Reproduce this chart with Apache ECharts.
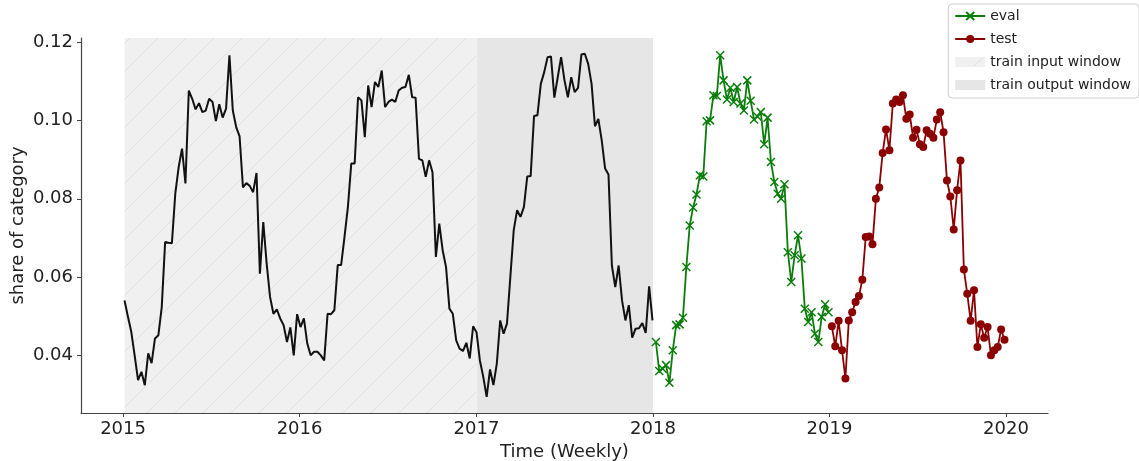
<!DOCTYPE html>
<html>
<head>
<meta charset="utf-8">
<script src="https://cdn.jsdelivr.net/npm/echarts@6/dist/echarts.min.js"></script>
<style>
html,body{margin:0;padding:0;background:#fff;}
#chart{width:1139px;height:461px;}
</style>
</head>
<body>
<div id="chart"></div>
<script>
// ---- data ----
const trainStart = '2015-01-04';
const evalStart = '2018-01-07';
const testStart = '2019-01-06';
const trainValues = [.0541,.050,.0461,.040,.0338,.0359,.0325,.0406,.0381,.0444,
.0452,.0524,.069,.0688,.0687,.0813,.0881,.0928,.0839,.1076,
.1055,.1028,.1044,.1021,.1025,.1055,.1047,.0998,.1041,.1007,
.103,.1166,.1025,.0983,.0959,.0829,.084,.0833,.0817,.0866,
.0609,.0741,.0635,.055,.0507,.0518,.0495,.0478,.0435,.0472,
.0401,.0506,.0473,.0495,.0431,.0401,.041,.041,.0401,.0388,
.0507,.0506,.0516,.0631,.0631,.0703,.0779,.089,.089,.1059,
.1051,.0957,.1089,.1034,.1098,.1085,.1127,.1034,.1047,.1053,
.1047,.1076,.1083,.1085,.1116,.1059,.1058,.0902,.0898,.0856,
.0898,.0868,.0652,.0737,.0669,.0626,.052,.0507,.0439,.0418,
.0412,.0433,.0393,.0475,.046,.0388,.0346,.0295,.0365,.0325,
.038,.049,.0456,.0482,.0601,.072,.0771,.0754,.0779,.0857,
.0858,.1011,.1013,.1093,.1123,.1161,.1163,.1058,.111,.1161,
.1102,.1059,.111,.1072,.1083,.1168,.117,.1144,.1093,.0985,
.1004,.0949,.0877,.0862,.063,.0575,.063,.0541,.049,.0529,
.0446,.0469,.047,.0483,.0458,.0577,.049];
const evalValues = [.0435,.0361,.0367,.0376,.0331,.0414,.0478,.048,.0497,.0626,
.0732,.0778,.0811,.086,.0857,.0998,.1,.1064,.1062,.1166,
.1102,.1053,.1083,.1047,.1085,.1043,.1025,.1102,.105,.1002,
.101,.1021,.0939,.1007,.0894,.0843,.0813,.08,.0837,.0664,
.0588,.0656,.0707,.0648,.052,.0486,.0511,.0456,.0435,.0499,
.0531,.0511];
const testValues = [.0475,.0424,.0489,.0414,.0342,.049,.0511,.0537,.0552,.0594,
.0703,.0704,.0684,.08,.0829,.0917,.0977,.0924,.1043,.1053,
.1047,.1064,.1004,.1015,.0956,.0976,.0939,.0932,.0975,.0966,
.0956,.1002,.1021,.097,.0847,.0806,.0722,.0822,.0898,.062,
.0558,.0489,.0567,.0422,.048,.0446,.0473,.0401,.0414,.0422,
.0467,.0441];
const inputWindow = ['2015-01-04', '2016-12-31'];
const outputWindow = ['2017-01-01', '2018-01-01'];
const xTickYears = [2015, 2016, 2017, 2018, 2019, 2020];
const yTicks = [0.04, 0.06, 0.08, 0.10, 0.12];
const seriesNames = ['eval', 'test', 'train input window', 'train output window'];

// ---- helpers ----
const DAY = 86400000;
function ts(s){ const p = s.split('-').map(Number); return Date.UTC(p[0], p[1]-1, p[2]); }
function weekly(start, values){ const t0 = ts(start); return values.map((v,i)=>[t0 + i*7*DAY, v]); }

function hatchPattern(){
  const s = 28;
  const c = document.createElement('canvas');
  c.width = s; c.height = s;
  const g = c.getContext('2d');
  g.fillStyle = '#f0f0f0'; g.fillRect(0,0,s,s);
  g.strokeStyle = '#e0e0e0'; g.lineWidth = 1;
  g.beginPath();
  g.moveTo(0,s); g.lineTo(s,0);
  g.moveTo(-s/2,s/2); g.lineTo(s/2,-s/2);
  g.moveTo(s/2,s*1.5); g.lineTo(s*1.5,s/2);
  g.stroke();
  return {image: c, repeat: 'repeat'};
}
const hatch = hatchPattern();
const FONT = 'DejaVu Sans';

const chart = echarts.init(document.getElementById('chart'), null, {renderer:'canvas'});
chart.setOption({
  animation: false,
  backgroundColor: '#fff',
  textStyle: {fontFamily: FONT},
  grid: {left: 81, right: 91, top: 38, bottom: 48, containLabel: false, outerBoundsMode: 'none'},
  legend: {
    orient: 'vertical', right: 0, top: 4,
    padding: [5, 8, 6, 6],
    itemGap: 9,
    itemWidth: 30, itemHeight: 10,
    borderColor: '#cccccc', borderWidth: 1, borderRadius: 4,
    backgroundColor: 'rgba(255,255,255,0.8)',
    textStyle: {fontFamily: FONT, fontSize: 14, color: '#222'},
    data: [
      {name: seriesNames[0]},
      {name: seriesNames[1]},
      {name: seriesNames[2], icon: 'rect', itemStyle: {color: hatch}},
      {name: seriesNames[3], icon: 'rect'}
    ]
  },
  xAxis: {
    type: 'value',
    min: ts('2014-10-06'), max: ts('2020-03-28'),
    name: 'Time (Weekly)', nameLocation: 'middle', nameGap: 30, nameMoveOverlap: false,
    nameTextStyle: {fontFamily: FONT, fontSize: 18, color: '#222'},
    axisLine: {show: true, onZero: false, lineStyle: {color: '#444', width: 1.2}},
    axisTick: {show: true, length: 4, lineStyle: {color: '#444'}, customValues: xTickYears.map(y=>Date.UTC(y,0,1))},
    axisLabel: {fontFamily: FONT, fontSize: 18, color: '#222', margin: 7,
      customValues: xTickYears.map(y=>Date.UTC(y,0,1)),
      formatter: v => String(new Date(v).getUTCFullYear())},
    splitLine: {show: false}
  },
  yAxis: {
    type: 'value', min: 0.0254, max: 0.121,
    name: 'share of category', nameLocation: 'middle', nameGap: 54, nameRotate: 90, nameMoveOverlap: false,
    nameTextStyle: {fontFamily: FONT, fontSize: 18, color: '#222'},
    axisLine: {show: true, onZero: false, lineStyle: {color: '#444', width: 1.2}},
    axisTick: {show: true, length: 4, lineStyle: {color: '#444'}, customValues: yTicks},
    axisLabel: {fontFamily: FONT, fontSize: 18, color: '#222', margin: 8,
      customValues: yTicks, formatter: v => v.toFixed(2)},
    splitLine: {show: false}
  },
  series: [
    {
      name: seriesNames[2], type: 'line', data: [], z: 0,
      itemStyle: {color: '#f0f0f0'},
      markArea: {silent: true, itemStyle: {color: hatch}, data: [[{xAxis: ts(inputWindow[0])}, {xAxis: ts(inputWindow[1])}]]}
    },
    {
      name: seriesNames[3], type: 'line', data: [], z: 0,
      itemStyle: {color: '#e6e6e6'},
      markArea: {silent: true, itemStyle: {color: '#e6e6e6'}, data: [[{xAxis: ts(outputWindow[0])}, {xAxis: ts(outputWindow[1])}]]}
    },
    {
      name: 'train', type: 'line', data: weekly(trainStart, trainValues),
      showSymbol: false, symbol: 'none', z: 3,
      lineStyle: {color: '#111', width: 2}, itemStyle: {color: '#111'}
    },
    {
      name: seriesNames[0], type: 'line', data: weekly(evalStart, evalValues), z: 3,
      symbol: 'path://M0,0L10,10M10,0L0,10', symbolSize: 8, showAllSymbol: true,
      lineStyle: {color: '#0a7d0a', width: 1.8},
      itemStyle: {color: '#0a7d0a', borderColor: '#0a7d0a', borderWidth: 1.5}
    },
    {
      name: seriesNames[1], type: 'line', data: weekly(testStart, testValues), z: 3,
      symbol: 'circle', symbolSize: 8, showAllSymbol: true,
      lineStyle: {color: '#8b0000', width: 1.8},
      itemStyle: {color: '#8b0000'}
    }
  ]
});
</script>
</body>
</html>
